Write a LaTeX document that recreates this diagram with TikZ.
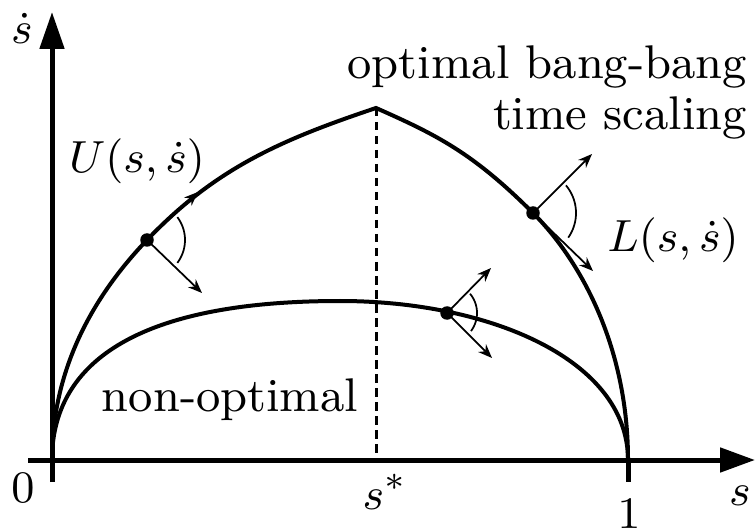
\documentclass[tikz,border=0pt]{standalone}
\usetikzlibrary{arrows.meta}
\begin{document}
\begin{tikzpicture}[x=0.2pt,y=-0.2pt,
  axis/.style={line width=1pt},
  curve/.style={line width=0.8pt},
  vec/.style={line width=0.35pt,-{Stealth[length=2.8pt,width=2.2pt]}},
  cone/.style={line width=0.35pt},
  dotn/.style={circle,fill,inner sep=0pt,minimum size=2.7pt},
  lbl/.style={font=\fontsize{9.45}{10.2}\selectfont, inner sep=0pt}]
\useasboundingbox (0,0) rectangle (756,531);
% axes
\coordinate (O) at (52,460);
\coordinate (xs) at (28,460);
\coordinate (xe) at (755,460);
\coordinate (yb) at (52,482);
\coordinate (ye) at (52,12);
\coordinate (one) at (628,460);
\coordinate (onet) at (628,482);
\coordinate (peak) at (376,108);
\coordinate (dashend) at (376,455);
\draw[axis,-{Triangle[length=7pt,width=4.8pt]}] (xs) -- (xe);
\draw[axis,-{Triangle[length=7.4pt,width=4.8pt]}] (yb) -- (ye);
\draw[axis] (one) -- (onet);
\draw[line width=0.6pt, dash pattern=on 1.7pt off 1.1pt] (peak) -- (dashend);
% dots
\node[dotn] (p1) at (147,240) {};
\node[dotn] (p2) at (533,213) {};
\node[dotn] (p3) at (447,313) {};
\coordinate (lpk) at (340,301);
% upper (optimal) curve
\draw[curve] (O) .. controls (52,360) and (102,287) .. (p1.center)
  .. controls (217,166.5) and (285,138.6) .. (peak)
  .. controls (437,135) and (473,153) .. (p2.center)
  .. controls (583,263) and (628,350) .. (one);
% lower (non-optimal) curve
\draw[curve] (O) .. controls (52,380) and (110,301) .. (lpk)
  .. controls (490,301) and (628,360) .. (one);
% cone 1
\coordinate (t1) at (198,192);
\coordinate (n1) at (202,293);
\draw[vec] (p1.center) -- (t1);
\draw[vec] (p1.center) -- (n1);
\draw[cone] plot[domain=-37:37,samples=25] ({147+38*cos(\x)},{240+38*sin(\x)});
% cone 2
\coordinate (t2) at (592,154);
\coordinate (n2) at (593,271);
\draw[vec] (p2.center) -- (t2);
\draw[vec] (p2.center) -- (n2);
\draw[cone] plot[domain=-40:35,samples=25] ({533+43*cos(\x)},{213+43*sin(\x)});
% cone 3
\coordinate (t3) at (491,268);
\coordinate (n3) at (492,358);
\draw[vec] (p3.center) -- (t3);
\draw[vec] (p3.center) -- (n3);
\draw[cone] plot[domain=-40:37,samples=25] ({447+30*cos(\x)},{313+30*sin(\x)});
% labels
\node[lbl] (sdot) at (22,28) {$\dot{s}$};
\node[lbl] (zero) at (23,488) {$0$};
\node[lbl] (sstar) at (385,492) {$s^*$};
\node[lbl] (lone) at (629,514) {$1$};
\node[lbl] (sl) at (740,496) {$s$};
\node[lbl] (U) at (137,161) {$U(s,\dot{s})$};
\node[lbl] (L) at (673,240) {$L(s,\dot{s})$};
\node[lbl] (nonopt) at (230,400) {non-optimal};
\node[lbl,anchor=base east] (opt1) at (748,79) {optimal bang-bang};
\node[lbl,anchor=base east] (opt2) at (748,130) {time scaling};
\end{tikzpicture}
\end{document}
